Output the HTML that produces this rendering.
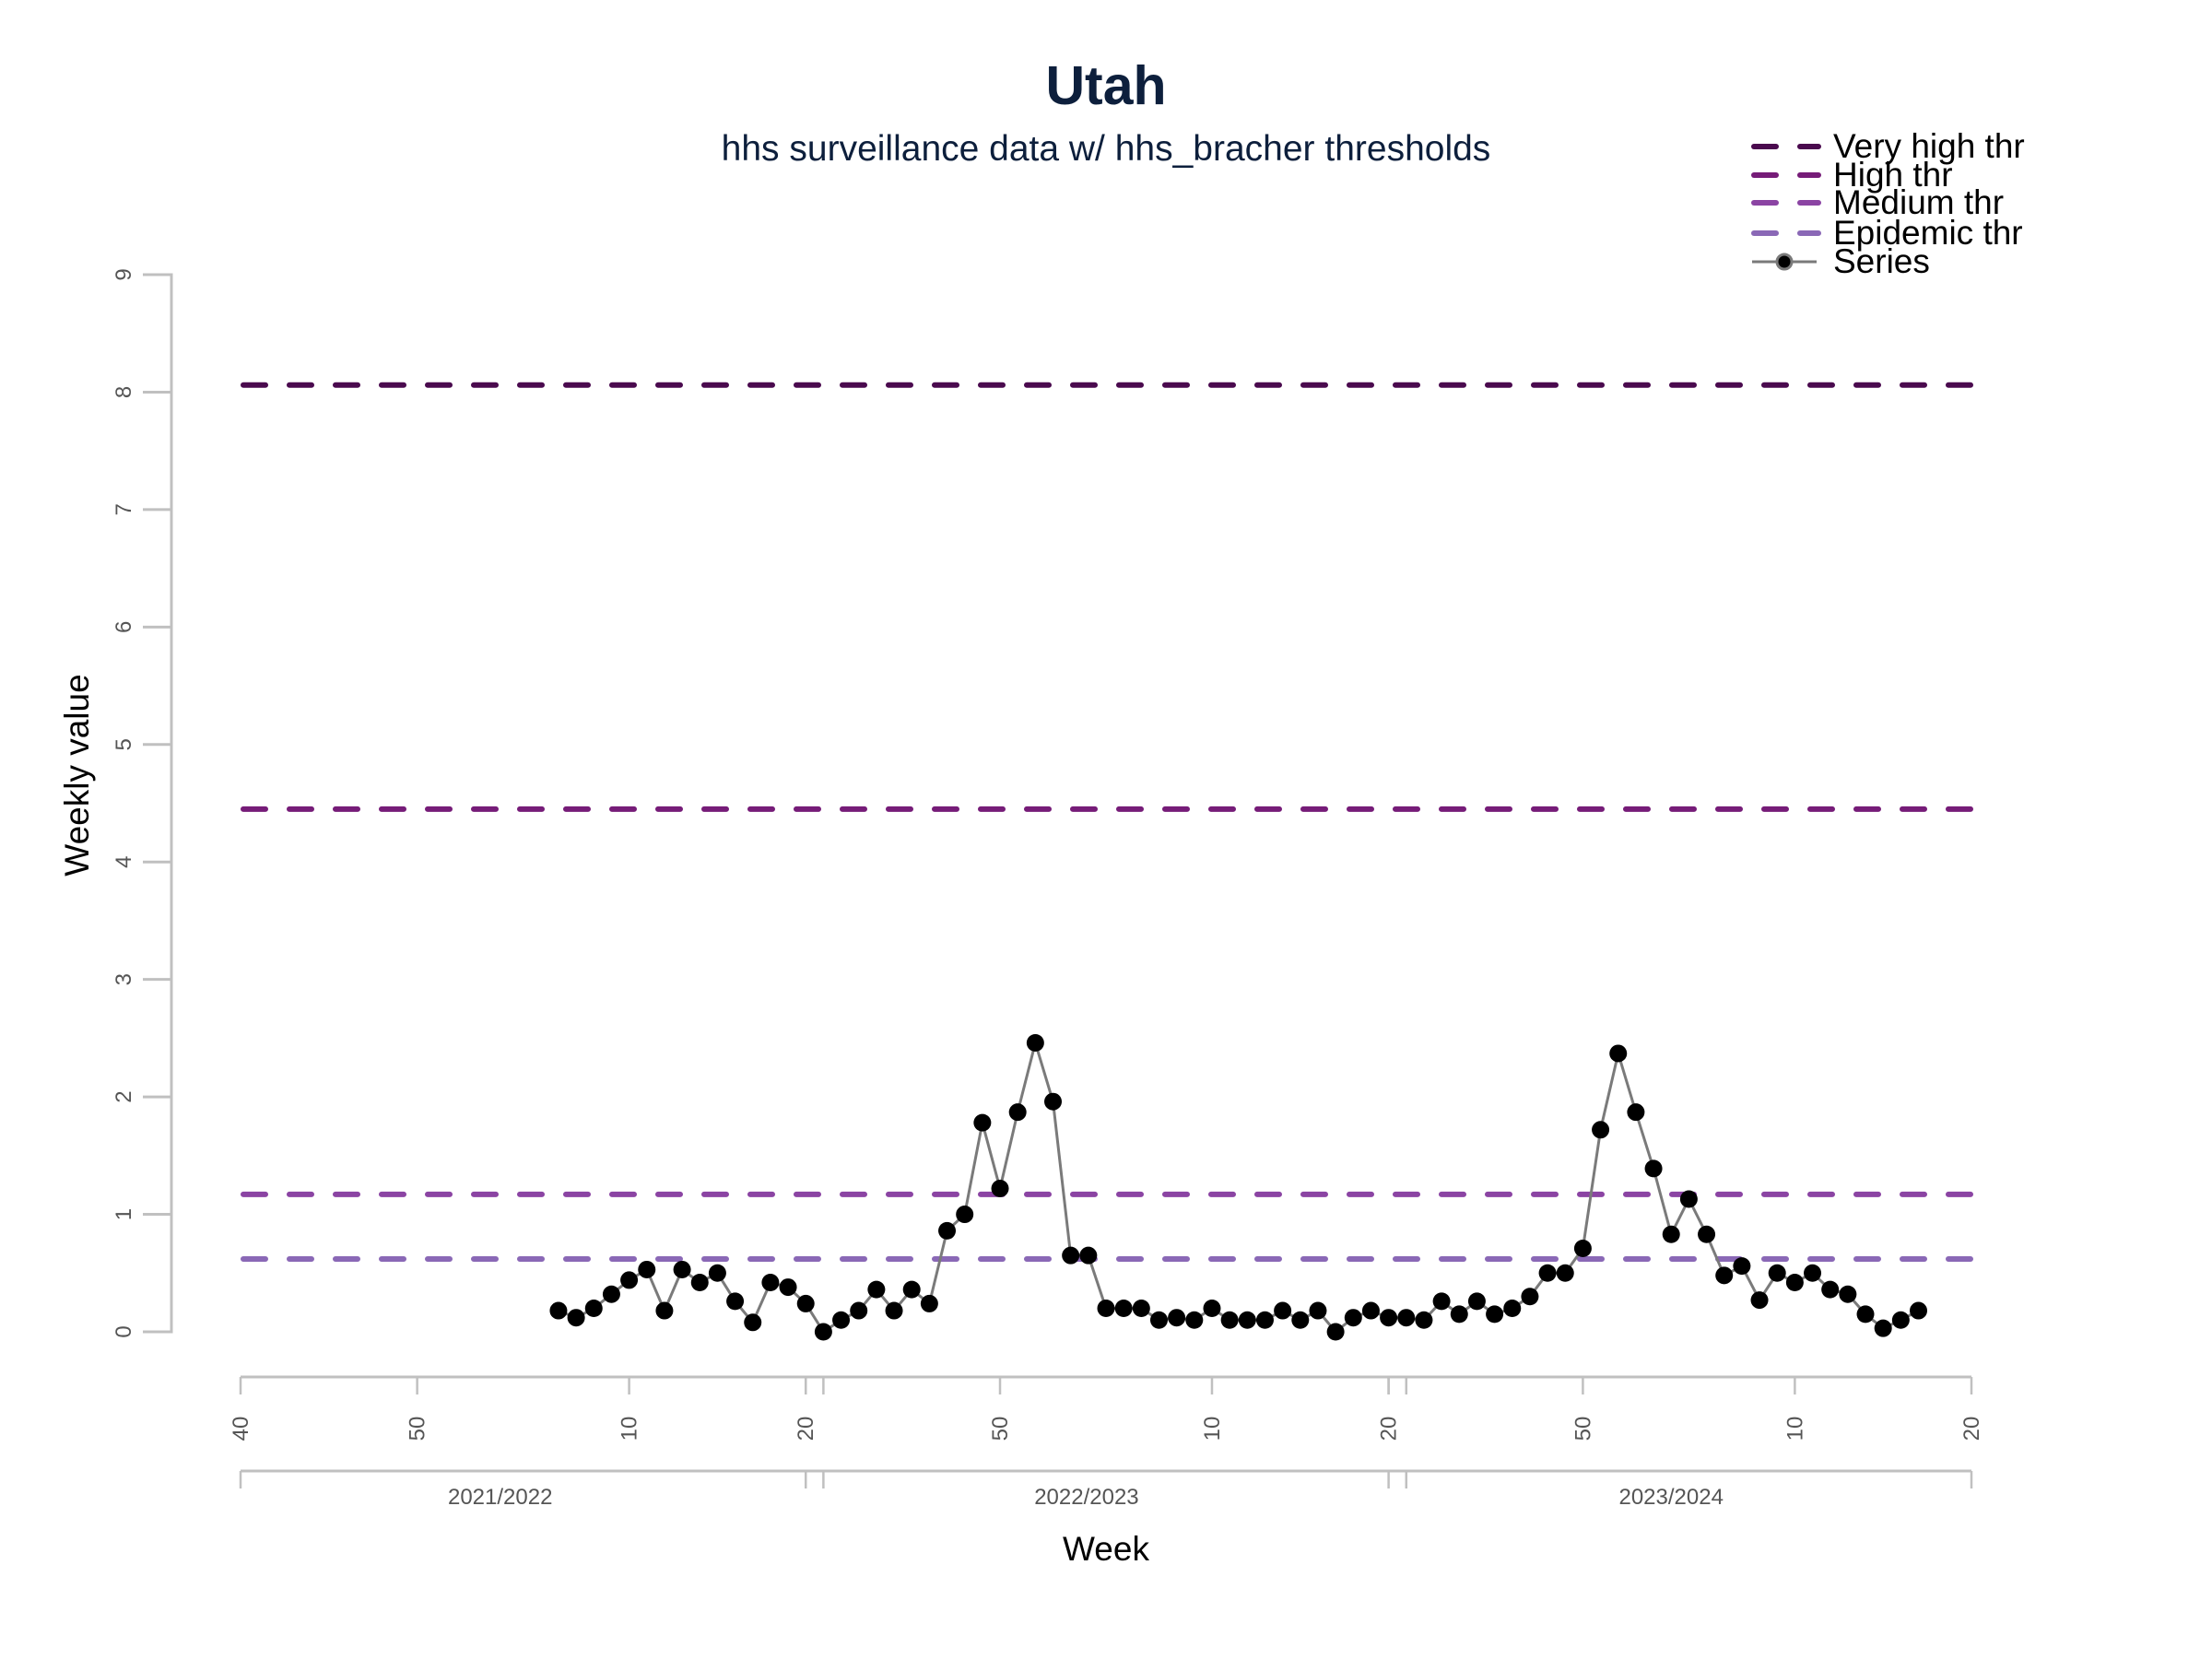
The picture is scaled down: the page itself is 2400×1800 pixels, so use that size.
<!DOCTYPE html>
<html><head><meta charset="utf-8"><style>
html,body{margin:0;padding:0;background:#fff;}
svg{display:block;font-family:"Liberation Sans",Arial,sans-serif;}
</style></head><body>
<svg id="chart" width="2400" height="1800" viewBox="0 0 2400 1800" xmlns="http://www.w3.org/2000/svg">
<rect width="2400" height="1800" fill="#fff"/>
<text x="1200" y="113" text-anchor="middle" font-size="59" font-weight="bold" fill="#0d1f3c">Utah</text>
<text x="1200" y="174" text-anchor="middle" font-size="39" fill="#0d1f3c">hhs surveillance data w/ hhs_bracher thresholds</text>
<text transform="translate(96,841) rotate(-90)" text-anchor="middle" font-size="37" fill="#000">Weekly value</text>
<text x="1200" y="1693" text-anchor="middle" font-size="37" fill="#000">Week</text>
<g id="legend"></g>
<g id="axes"></g>
<g id="thresholds"></g>
<g id="series"></g>
</svg>
<script>
const seriesIdx0 = 18;
const seriesValues = [0.18,0.12,0.2,0.32,0.44,0.53,0.18,0.53,0.42,0.5,0.26,0.08,0.42,0.38,0.24,
0,0.1,0.18,0.36,0.18,0.36,0.24,0.86,1.0,1.78,1.22,1.87,2.46,1.96,0.65,0.65,0.2,0.2,0.2,0.1,0.12,0.1,0.2,0.1,0.1,0.1,0.18,0.1,0.18,0,0.12,0.18,0.12,
0.12,0.1,0.26,0.15,0.26,0.15,0.2,0.3,0.5,0.5,0.71,1.72,2.37,1.87,1.39,0.83,1.13,0.83,0.48,0.56,0.27,0.5,0.42,0.5,0.36,0.32,0.15,0.03,0.1,0.18];
const thresholdNames = ["Very high thr","High thr","Medium thr","Epidemic thr"];
const thresholdValues = [8.06,4.45,1.17,0.62];
const thresholdColors = ["#4a0a4e","#761c78","#8b44a3","#8a68b6"];
const yTicks = [0,1,2,3,4,5,6,7,8,9];
const weekTickIdx = [0,10,22,32,43,55,65,76,88,98];
const weekTickLabels = ["40","50","10","20","50","10","20","50","10","20"];
const seasonBreakIdx = [32,33,65,66];
const seasonLabels = ["2021/2022","2022/2023","2023/2024"];
const seasonLabelIdx = [14.7,47.9,81];

const NS="http://www.w3.org/2000/svg";
const X0=261,X1=2139,NIDX=98,Y0=1445,Y9=298;
const xs=i=>X0+(X1-X0)*i/NIDX;
const ys=v=>Y0+(Y9-Y0)*v/9;
function mk(tag,attrs,parent,txt){const e=document.createElementNS(NS,tag);for(const k in attrs)e.setAttribute(k,attrs[k]);if(txt!==undefined)e.textContent=txt;parent.appendChild(e);return e;}
const axes=document.getElementById('axes');
const G="#c0c0c0";
let yl=mk('line',{x1:186,x2:186,y1:ys(0)+1.5,y2:ys(9)-1.5,stroke:G,'stroke-width':3},axes);


yTicks.forEach(t=>{
  const l=mk('line',{x1:155,x2:186,y1:ys(t),y2:ys(t),stroke:G,'stroke-width':3},axes);
  
  
  const tx=mk('text',{transform:`translate(142,${ys(t)}) rotate(-90)`,'text-anchor':'middle','font-size':24,fill:'#555'},axes,String(t));
  
  
});
[[1494,1513],[1596,1615]].forEach(([ay,ty],k)=>{
  const l=mk('line',{x1:X0,x2:X1,y1:ay,y2:ay,stroke:G,'stroke-width':3},axes);
  
  
  const idxs=k?[0,98]:weekTickIdx;
  idxs.concat(seasonBreakIdx).forEach(i=>{
    const t=mk('line',{x1:xs(i),x2:xs(i),y1:ay,y2:ty,stroke:G,'stroke-width':2.5},axes);
    
    
  });
});
weekTickIdx.forEach((i,k)=>{
  const t=mk('text',{transform:`translate(${xs(i)+8},1550) rotate(-90)`,'text-anchor':'middle','font-size':24,fill:'#555'},axes,weekTickLabels[k]);
  
  
});
seasonLabels.forEach((s,k)=>{
  const t=mk('text',{x:xs(seasonLabelIdx[k]),y:1632,'text-anchor':'middle','font-size':24,fill:'#555'},axes,s);
  
  
});
const th=document.getElementById('thresholds');
thresholdValues.forEach((v,k)=>{
  const l=mk('line',{x1:X0+3,x2:X1,y1:ys(v),y2:ys(v),stroke:thresholdColors[k],'stroke-width':6,'stroke-dasharray':'24 26','stroke-linecap':'round'},th);
  
  
});
const sg=document.getElementById('series');
const pts=seriesValues.map((v,i)=>`${xs(seriesIdx0+i)},${ys(v)}`).join(' ');
const pl=mk('polyline',{points:pts,fill:'none',stroke:'#7a7a7a','stroke-width':3},sg);


seriesValues.forEach((v,i)=>{
  const c=mk('circle',{cx:xs(seriesIdx0+i),cy:ys(v),r:9.5,fill:'#000'},sg);
  
  
});
const lg=document.getElementById('legend');
const rows=[159,190,220,253,284];
thresholdNames.concat(["Series"]).forEach((n,k)=>{
  const y=rows[k];
  if(k<4){
    const l=mk('line',{x1:1903,x2:1973,y1:y,y2:y,stroke:thresholdColors[k],'stroke-width':6,'stroke-dasharray':'24 26','stroke-linecap':'round'},lg);
    
    
  } else {
    const l=mk('line',{x1:1901,x2:1971,y1:y,y2:y,stroke:'#7a7a7a','stroke-width':3},lg);
    
    
    const c=mk('circle',{cx:1936,cy:y,r:8,fill:'#000',stroke:'#7a7a7a','stroke-width':3},lg);
    
    
  }
  const t=mk('text',{x:1989,y:y+12,'font-size':37,fill:'#000'},lg,n);
  
  
});
</script>
</body></html>
